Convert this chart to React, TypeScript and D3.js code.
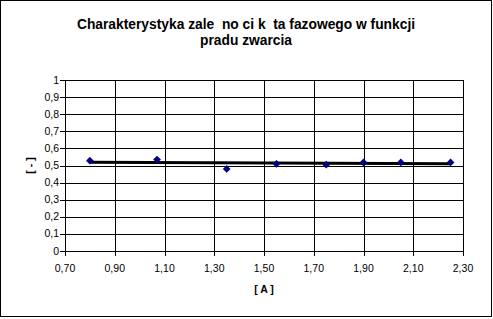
import React from "react";
import * as d3 from "d3";

const title1 = "Charakterystyka zale  no ci k  ta fazowego w funkcji";
const title2 = "pradu zwarcia";
const xLabel = "[ A ]";
const yLabel = "[ - ]";

const currentA = [0.8, 1.07, 1.35, 1.55, 1.75, 1.9, 2.05, 2.25];
const ratioValues = [0.528, 0.535, 0.48, 0.51, 0.505, 0.518, 0.518, 0.518];

const xTicks = [0.7, 0.9, 1.1, 1.3, 1.5, 1.7, 1.9, 2.1, 2.3];
const yTicks = [0, 0.1, 0.2, 0.3, 0.4, 0.5, 0.6, 0.7, 0.8, 0.9, 1];

const W = 493;
const H = 319;
const plot = { left: 65, right: 463, top: 80, bottom: 251 };

export default function App() {
  const x = d3.scaleLinear().domain([0.7, 2.3]).range([plot.left, plot.right]);
  const y = d3.scaleLinear().domain([0, 1]).range([plot.bottom, plot.top]);
  const fmtX = (v: number) => v.toFixed(2).replace(".", ",");
  const fmtY = (v: number) => (v === 0 || v === 1 ? String(v) : v.toFixed(1).replace(".", ","));

  // linear trend line
  const n = currentA.length;
  const mx = d3.mean(currentA)!;
  const my = d3.mean(ratioValues)!;
  let sxy = 0, sxx = 0;
  for (let i = 0; i < n; i++) {
    sxy += (currentA[i] - mx) * (ratioValues[i] - my);
    sxx += (currentA[i] - mx) ** 2;
  }
  const slope = sxy / sxx;
  const icpt = my - slope * mx;
  const x0 = d3.min(currentA)!;
  const x1 = d3.max(currentA)!;

  const marker = d3.symbol().type(d3.symbolSquare).size(30)();
  const font = "'Liberation Sans', Arial, sans-serif";

  return (
    <svg width={W} height={H} style={{ position: "absolute", left: 0, top: 0, background: "#fff" }} fontFamily={font}>
      <rect x={0.5} y={0.5} width={W - 2} height={H - 3} fill="#fff" stroke="#000" strokeWidth={1} />
      <text x={246} y={29} textAnchor="middle" fontSize={13.8} fontWeight="bold" style={{ whiteSpace: "pre" }}>{title1}</text>
      <text x={246} y={45} textAnchor="middle" fontSize={13.8} fontWeight="bold">{title2}</text>

      {yTicks.map((t) => (
        <g key={"y" + t}>
          <line x1={plot.left - 5} x2={plot.right} y1={Math.round(y(t)) + 0.5} y2={Math.round(y(t)) + 0.5} stroke="#000" />
          <text x={59} y={y(t) + 3.5} textAnchor="end" fontSize={10.5}>{fmtY(t)}</text>
        </g>
      ))}
      {xTicks.map((t) => (
        <g key={"x" + t}>
          <line x1={Math.round(x(t)) + 0.5} x2={Math.round(x(t)) + 0.5} y1={plot.top} y2={plot.bottom + 5} stroke="#000" />
          <text x={x(t)} y={272} textAnchor="middle" fontSize={10.5}>{fmtX(t)}</text>
        </g>
      ))}

      <line x1={x(x0)} x2={x(x1)} y1={y(icpt + slope * x0)} y2={y(icpt + slope * x1)} stroke="#000" strokeWidth={3} />

      {currentA.map((v, i) => (
        <path key={i} d={marker!} transform={`translate(${x(v)},${y(ratioValues[i])}) rotate(45)`} fill="#000080" />
      ))}

      <text x={264} y={293} textAnchor="middle" fontSize={10.5} fontWeight="bold" style={{ whiteSpace: "pre" }}>{xLabel}</text>
      <text transform={`translate(34,${(plot.top + plot.bottom) / 2}) rotate(-90)`} textAnchor="middle" fontSize={10.5} fontWeight="bold" style={{ whiteSpace: "pre" }}>{yLabel}</text>
    </svg>
  );
}
